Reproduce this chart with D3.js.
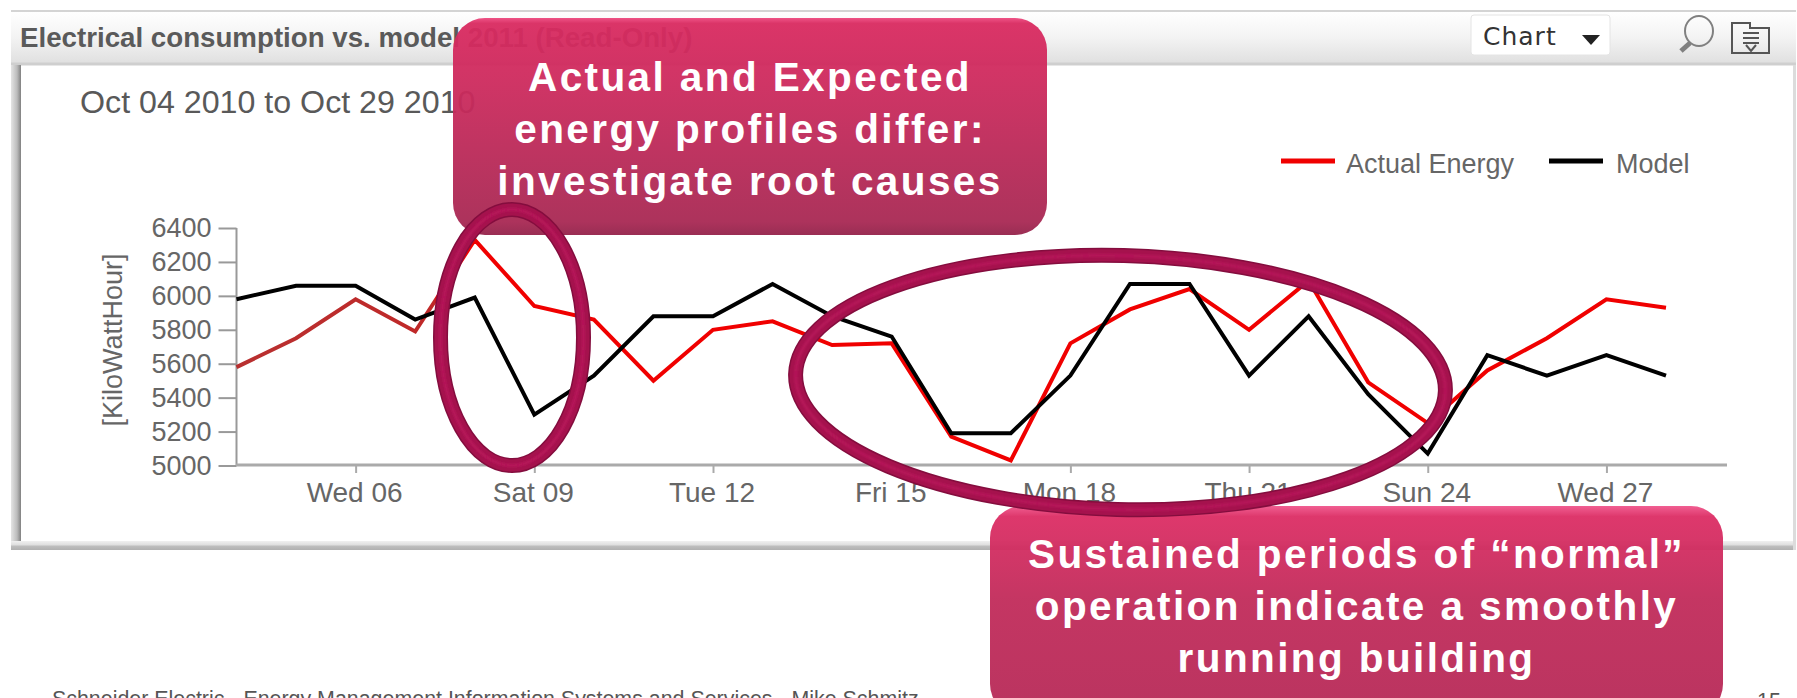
<!DOCTYPE html>
<html><head><meta charset="utf-8">
<script src="https://cdn.jsdelivr.net/npm/d3@7"></script>
<style>
html,body{margin:0;padding:0;background:#fff;width:1797px;height:698px;overflow:hidden}
svg{display:block}
text{font-family:"Liberation Sans",Arial,sans-serif}
</style></head><body>
<svg id="c" width="1797" height="698"></svg>
<script>
const days = d3.range(4, 29);
const actualEnergy = [5580,5750,5980,5790,6330,5940,5860,5500,5800,5850,5710,5720,5170,5030,5720,5920,6040,5800,6090,5490,5250,5560,5750,5980,5930];
const modelEnergy  = [5980,6060,6060,5860,5990,5300,5530,5880,5880,6070,5880,5760,5190,5190,5530,6070,6070,5530,5880,5420,5070,5650,5530,5650,5530];
const yTicks = [5000,5200,5400,5600,5800,6000,6200,6400];
const xTickDays = [6,9,12,15,18,21,24,27];
const xTickLabels = ["Wed 06","Sat 09","Tue 12","Fri 15","Mon 18","Thu 21","Sun 24","Wed 27"];
const headerTitle = "Electrical consumption vs. model 2011 (Read-Only)";
const chartTitle = "Oct 04 2010 to Oct 29 2010";
const yLabel = "[KiloWattHour]";
const seriesNames = ["Actual Energy","Model"];
const note1 = ["Actual and Expected","energy profiles differ:","investigate root causes"];
const note2 = ["Sustained periods of \u201cnormal\u201d","operation indicate a smoothly","running building"];
const footer = "Schneider Electric - Energy Management Information Systems and Services - Mike Schmitz";

const svg = d3.select("#c");
const defs = svg.append("defs");
function grad(id, stops, horiz){
  const g = defs.append("linearGradient").attr("id",id).attr("x1",0).attr("y1",0).attr("x2",horiz?1:0).attr("y2",horiz?0:1);
  stops.forEach(s=>g.append("stop").attr("offset",s[0]).attr("stop-color",s[1]));
  return g;
}
grad("hdr",[[0,"#ffffff"],[0.5,"#f3f3f3"],[1,"#e0e0e0"]]);
grad("note1",[[0,"#ee4a80"],[0.025,"#d92a60"],[0.3,"#cd2a5d"],[0.94,"#a82853"],[1,"#94224a"]]);
grad("note2",[[0,"#f0568c"],[0.05,"#dc2d64"],[0.45,"#c12b5a"],[1,"#b62957"]]);
grad("lb",[[0,"#e4e4e4"],[0.6,"#bcbcbc"],[1,"#808080"]],true);
grad("bb",[[0,"#f0f0f0"],[0.4,"#e0e0e0"],[0.6,"#bdbdbd"],[1,"#b0b0b0"]]);
const redG = grad("redShade",[[0,"#b83030"],[0.139,"#c02828"],[0.14,"#f00000"],[1,"#f00000"]],true)
  .attr("gradientUnits","userSpaceOnUse").attr("x1",236).attr("x2",1666);
const blur = defs.append("filter").attr("id","soft").attr("x","-5%").attr("y","-5%").attr("width","110%").attr("height","110%");
blur.append("feGaussianBlur").attr("stdDeviation",0.8);

/* panel */
const panel = svg.append("g");
panel.append("rect").attr("x",11).attr("y",10).attr("width",1785).attr("height",2).attr("fill","#d4d4d4");
panel.append("rect").attr("x",11).attr("y",12).attr("width",1785).attr("height",51).attr("fill","url(#hdr)");
panel.append("line").attr("x1",11).attr("x2",1796).attr("y1",64).attr("y2",64).attr("stroke","#cfcfcf").attr("stroke-width",3);
panel.append("rect").attr("x",11).attr("y",65).attr("width",10).attr("height",478).attr("fill","url(#lb)");
panel.append("rect").attr("x",11).attr("y",541).attr("width",1785).attr("height",9).attr("fill","url(#bb)");
panel.append("rect").attr("x",1793).attr("y",65).attr("width",3).attr("height",485).attr("fill","#dcdcdc");

svg.append("text").attr("x",20).attr("y",47).attr("font-size",27.7).attr("font-weight","bold").attr("fill","#5a5a5a").text(headerTitle);
svg.append("text").attr("x",80).attr("y",113).attr("font-size",32.2).attr("fill","#595959").text(chartTitle);

/* toolbar */
svg.append("rect").attr("x",1471).attr("y",15).attr("width",139).attr("height",40).attr("rx",3).attr("fill","#fff").attr("stroke","#e4e4e4");
svg.append("text").attr("x",1483).attr("y",45).attr("font-size",25).attr("letter-spacing",1).attr("style","font-family:'DejaVu Sans'").attr("fill","#333").text("Chart");
svg.append("path").attr("d","M1582,35 L1600,35 L1591,45 Z").attr("fill","#222");
const icons = svg.append("g").attr("fill","none").attr("stroke","#808080");
icons.append("ellipse").attr("cx",1699).attr("cy",31).attr("rx",14).attr("ry",15).attr("stroke-width",2);
icons.append("line").attr("x1",1690).attr("y1",43).attr("x2",1681).attr("y2",51).attr("stroke-width",5);
icons.append("path").attr("d","M1732,53 V23 H1750 V28 H1769 V53 Z").attr("stroke-width",2).attr("stroke","#555");
icons.append("path").attr("d","M1743,33 H1759 M1743,38 H1759 M1743,43 H1759 M1746,45 L1751,51 L1756,45").attr("stroke-width",2).attr("stroke","#555");

/* scales */
const x = d3.scaleLinear().domain([4,28]).range([236.5,1666]);
const y = d3.scaleLinear().domain([5000,6400]).range([465.5,228]);
const chart = svg.append("g");

const gy = chart.append("g").attr("transform","translate(236.5,0)")
  .call(d3.axisLeft(y).tickValues(yTicks).tickSize(18).tickPadding(7).tickFormat(d3.format("d")));
gy.select(".domain").attr("stroke","#999").attr("stroke-width",2).attr("d",`M0,${y(6400)}V${y(5000)}`);
gy.selectAll(".tick line").attr("stroke","#999").attr("stroke-width",2);
gy.selectAll("text").attr("font-size",27).attr("fill","#666").attr("style","font-family:'Liberation Sans'");

const gx = chart.append("g").attr("transform","translate(0,465)")
  .call(d3.axisBottom(x).tickValues(xTickDays).tickSize(8).tickPadding(9).tickFormat((d,i)=>xTickLabels[i]));
gx.select(".domain").attr("stroke","#aaa").attr("stroke-width",3).attr("d","M236,0H1727");
gx.selectAll(".tick line").attr("stroke","#aaa").attr("stroke-width",2);
gx.selectAll("text").attr("font-size",28).attr("dx",-1.5).attr("fill","#666").attr("style","font-family:'Liberation Sans'");

chart.append("text").attr("transform","translate(122,340) rotate(-90)").attr("text-anchor","middle")
  .attr("font-size",27).attr("fill","#666").text(yLabel);

const line = d3.line().x((d,i)=>x(days[i])).y(d=>y(d));
chart.append("path").datum(actualEnergy).attr("d",line).attr("fill","none").attr("stroke","url(#redShade)").attr("stroke-width",4).attr("stroke-linejoin","miter");
chart.append("path").datum(modelEnergy).attr("d",line).attr("fill","none").attr("stroke","#000").attr("stroke-width",4).attr("stroke-linejoin","miter");

/* legend */
const legendItems = [{name:seriesNames[0],c:"#f00000",x1:1281,x2:1335,tx:1346},{name:seriesNames[1],c:"#000",x1:1549,x2:1603,tx:1616}];
legendItems.forEach(l=>{
  svg.append("line").attr("x1",l.x1).attr("x2",l.x2).attr("y1",161).attr("y2",161).attr("stroke",l.c).attr("stroke-width",5);
  svg.append("text").attr("x",l.tx).attr("y",173).attr("font-size",27).attr("fill","#666").text(l.name);
});

/* footer */
svg.append("text").attr("x",52).attr("y",706).attr("font-size",21.4).attr("fill","#555").text(footer);
svg.append("text").attr("x",1757).attr("y",708).attr("font-size",21.4).attr("fill","#555").text("15");

/* callouts */
function callout(x0,y0,w,h,fillId,lines,baselines,ls,size){
  const g = svg.append("g");
  g.append("rect").attr("x",x0).attr("y",y0).attr("width",w).attr("height",h).attr("rx",32)
    .attr("fill",`url(#${fillId})`).attr("fill-opacity",0.95);
  const cx = x0+w/2;
  lines.forEach((t,i)=>g.append("text").attr("x",cx).attr("y",baselines[i]).attr("text-anchor","middle")
    .attr("font-size",size).attr("font-weight","bold").attr("letter-spacing",ls).attr("fill","#fff").text(t));
}
callout(453,18,594,217,"note1",note1,[91,143,195],2.4,40.5);
callout(990,506,733,210,"note2",note2,[568,620,672],2.4,40.5);

/* rings */
function ring(cx,cy,rx,ry,rot,w){
  const g = svg.append("g").attr("transform",`translate(${cx},${cy}) rotate(${rot})`).attr("fill","none");
  g.append("ellipse").attr("rx",rx).attr("ry",ry).attr("stroke","#840d3e").attr("stroke-width",w);
  g.append("ellipse").attr("rx",rx).attr("ry",ry).attr("stroke","#a5124d").attr("stroke-width",w-3);
  g.append("ellipse").attr("rx",rx).attr("ry",ry).attr("stroke","#b7185a").attr("stroke-width",w*0.2).attr("filter","url(#soft)");
}
ring(512,337.5,71.5,128,0,15);
ring(1120.5,382.5,325,127,1.5,15);
</script>
</body></html>
